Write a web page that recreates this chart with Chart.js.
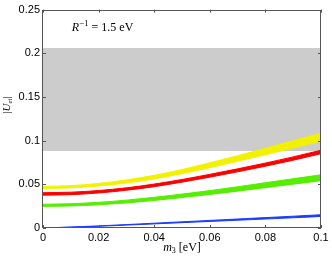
<!DOCTYPE html>
<html><head><meta charset="utf-8">
<script src="https://cdn.jsdelivr.net/npm/chart.js@4"></script>
<style>html,body{margin:0;padding:0;background:#fff}#c{display:block}</style>
</head><body>
<canvas id="c" width="332" height="258"></canvas>
<script>
const m3 = [0, 0.01, 0.02, 0.03, 0.04, 0.05, 0.06, 0.07, 0.08, 0.09, 0.1];
const yellowLow  = [0.0453,0.0459,0.0480,0.0514,0.0561,0.0621,0.0690,0.0763,0.0838,0.0916,0.0994];
const yellowHigh = [0.0477,0.0485,0.0510,0.0550,0.0603,0.0669,0.0746,0.0827,0.0912,0.0998,0.1086];
const redLow     = [0.0376,0.0382,0.0401,0.0432,0.0473,0.0525,0.0582,0.0643,0.0707,0.0776,0.0850];
const redHigh    = [0.0404,0.0410,0.0429,0.0460,0.0503,0.0555,0.0614,0.0677,0.0743,0.0814,0.0890];
const greenLow   = [0.0248,0.0252,0.0266,0.0287,0.0315,0.0348,0.0384,0.0422,0.0462,0.0502,0.0541];
const greenHigh  = [0.0272,0.0278,0.0294,0.0319,0.0351,0.0388,0.0428,0.0472,0.0518,0.0564,0.0609];
const blueLow    = [0,0.0009,0.0020,0.0033,0.0047,0.0061,0.0075,0.0089,0.0103,0.0117,0.0132];
const blueHigh   = [0,0.0011,0.0024,0.0039,0.0055,0.0071,0.0087,0.0103,0.0119,0.0135,0.0152];
const grayX = [0, 0.1];
const grayLow = [0.088, 0.088];
const grayHigh = [0.206, 0.206];
const xTicks = [0, 0.02, 0.04, 0.06, 0.08, 0.1];
const yTicks = [0, 0.05, 0.1, 0.15, 0.2, 0.25];
const annotation = {x: 0.0103, y: 0.225, base: 'R', sup: '\u22121', rest: ' = 1.5 eV'};
const xTitle = {base: 'm', sub: '3', rest: ' [eV]'};
const yTitle = {left: '|', base: 'U', sub: 'ei', right: '|'};

const pts = (xs, ys) => xs.map((x, i) => ({x, y: ys[i]}));
function band(lo, hi, color, order) {
  const common = {borderColor: color, borderWidth: 1, pointRadius: 0, cubicInterpolationMode: 'monotone', order};
  return [
    Object.assign({data: pts(m3, lo), fill: false}, common),
    Object.assign({data: pts(m3, hi), fill: '-1', backgroundColor: color}, common)
  ];
}
const datasets = [
  ...band(yellowLow, yellowHigh, '#f2f200', 1),
  ...band(redLow, redHigh, '#ff0000', 1),
  ...band(greenLow, greenHigh, '#55ee00', 1),
  ...band(blueLow, blueHigh, '#1a3cff', 1),
  {data: pts(grayX, grayLow), borderWidth: 0, pointRadius: 0, fill: false, order: 5},
  {data: pts(grayX, grayHigh), borderWidth: 0, pointRadius: 0, fill: '-1', backgroundColor: '#cccccc', order: 5}
];

function drawPieces(ctx, pieces, x, y, align) {
  let total = 0;
  pieces.forEach(p => { ctx.font = p.font; p.w = ctx.measureText(p.t).width; total += p.w; });
  let cx = align === 'center' ? x - total / 2 : x;
  pieces.forEach(p => { ctx.font = p.font; ctx.fillText(p.t, cx, y + (p.dy || 0)); cx += p.w; });
}

const framePlugin = {
  id: 'frame',
  afterDatasetsDraw(chart) {
    const {ctx, chartArea: a, scales: {x, y}} = chart;
    ctx.save();
    ctx.strokeStyle = '#555';
    ctx.lineWidth = 1;
    ctx.strokeRect(Math.round(a.left) - 0.5, Math.round(a.top) + 0.5, Math.round(a.right - a.left), Math.round(a.bottom - a.top) - 1);
    ctx.beginPath();
    xTicks.forEach(v => {
      const px = Math.round(x.getPixelForValue(v)) + 0.5;
      ctx.moveTo(px, a.bottom); ctx.lineTo(px, a.bottom - 3);
      ctx.moveTo(px, a.top); ctx.lineTo(px, a.top + 3);
    });
    yTicks.forEach(v => {
      const py = Math.round(y.getPixelForValue(v)) + 0.5;
      ctx.moveTo(a.left, py); ctx.lineTo(a.left + 3, py);
      ctx.moveTo(a.right, py); ctx.lineTo(a.right - 3, py);
    });
    ctx.stroke();
    ctx.fillStyle = '#000';
    ctx.textBaseline = 'alphabetic';
    ctx.textAlign = 'left';
    const serif = '"Liberation Serif"';
    drawPieces(ctx, [
      {t: annotation.base, font: 'italic 12px ' + serif},
      {t: annotation.sup, font: '9px ' + serif, dy: -5},
      {t: annotation.rest, font: '12px ' + serif}
    ], x.getPixelForValue(annotation.x), y.getPixelForValue(annotation.y), 'left');
    drawPieces(ctx, [
      {t: xTitle.base, font: 'italic 12px ' + serif},
      {t: xTitle.sub, font: '8px ' + serif, dy: 2},
      {t: xTitle.rest, font: '12px ' + serif}
    ], (a.left + a.right) / 2, 251, 'center');
    ctx.translate(10, 105);
    ctx.rotate(-Math.PI / 2);
    drawPieces(ctx, [
      {t: yTitle.left, font: '11px ' + serif},
      {t: yTitle.base, font: 'italic 11px ' + serif},
      {t: yTitle.sub, font: 'italic 7px ' + serif, dy: 2},
      {t: yTitle.right, font: '11px ' + serif}
    ], 0, 0, 'center');
    ctx.restore();
  }
};

const fmt = v => String(+(+v).toFixed(3));
new Chart(document.getElementById('c'), {
  type: 'line',
  data: {datasets},
  options: {
    responsive: false, animation: false, devicePixelRatio: 1,
    layout: {padding: {top: 9, right: 11, left: 0, bottom: 0}},
    plugins: {legend: {display: false}, tooltip: {enabled: false}},
    scales: {
      x: {
        type: 'linear', min: 0, max: 0.1,
        afterBuildTicks: s => { s.ticks = xTicks.map(v => ({value: v})); },
        afterFit: s => { s.height = 30; },
        grid: {display: false, drawTicks: false},
        border: {display: false},
        ticks: {color: '#000', font: {family: 'Liberation Sans', size: 11}, padding: 3, maxRotation: 0, callback: fmt}
      },
      y: {
        type: 'linear', min: 0, max: 0.25,
        afterBuildTicks: s => { s.ticks = yTicks.map(v => ({value: v})); },
        afterFit: s => { s.width = 43; },
        grid: {display: false, drawTicks: false},
        border: {display: false},
        ticks: {color: '#000', font: {family: 'Liberation Sans', size: 11}, padding: 3, callback: fmt}
      }
    }
  },
  plugins: [framePlugin]
});
</script>
</body></html>
